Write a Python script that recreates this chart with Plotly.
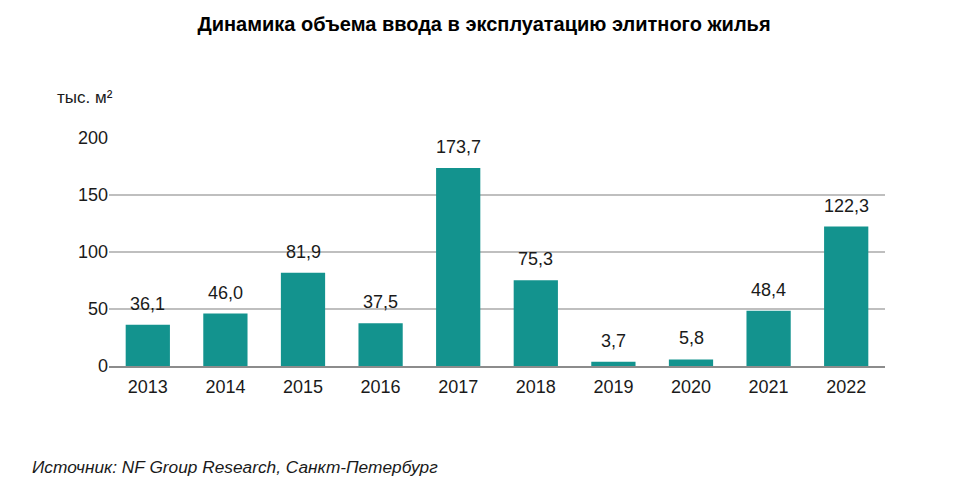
import plotly.graph_objects as go

years = ["2013", "2014", "2015", "2016", "2017", "2018", "2019", "2020", "2021", "2022"]
values = [36.1, 46.0, 81.9, 37.5, 173.7, 75.3, 3.7, 5.8, 48.4, 122.3]
labels = [f"{v:.1f}".replace(".", ",") for v in values]
y_ticks = [0, 50, 100, 150, 200]

# page body has an 8px default margin; compensate
OFF = 8
L, R, T, B = 109 - OFF, 84 + OFF, 138 - OFF, 120 + OFF
W, H = 969, 486

fig = go.Figure(go.Bar(
    x=years, y=values,
    marker=dict(color="#13938E", line=dict(width=0)),
))

pw = W - L - R
ph = H - T - B
def px_to_paper(xp, yp):
    return (xp - OFF - L) / pw, (H - B - (yp - OFF)) / ph

ax, ay = px_to_paper(55, 97)
sx, sy = px_to_paper(30, 467)

# category index positions for value labels
annotations = [
    dict(text=lab, x=i, y=v, xref="x", yref="y", showarrow=False,
         yanchor="bottom", yshift=9,
         font=dict(family="Liberation Sans, Arial", size=18, color="#1a1a1a"))
    for i, (v, lab) in enumerate(zip(values, labels))
]
annotations += [
    dict(text="тыс. м²", x=ax, y=ay, xref="paper", yref="paper", showarrow=False,
         font=dict(size=17), xanchor="left", yanchor="middle"),
    dict(text="<i>Источник: NF Group Research, Санкт-Петербург</i>", x=sx, y=sy,
         xref="paper", yref="paper",
         showarrow=False, font=dict(size=17.3, color="#1a1a1a"), xanchor="left", yanchor="middle"),
]

fig.update_layout(
    width=W, height=H,
    margin=dict(l=L, r=R, t=T, b=B),
    paper_bgcolor="white", plot_bgcolor="white",
    bargap=0.43,
    showlegend=False,
    font=dict(family="Liberation Sans, Arial", size=16, color="#1a1a1a"),
    title=dict(text="<b>Динамика объема ввода в эксплуатацию элитного жилья</b>",
               x=(484 - OFF) / W, xanchor="center", y=1 - (24 - OFF) / H, yanchor="middle",
               font=dict(size=20, color="black")),
    xaxis=dict(type="category", range=[-0.5, len(years) - 0.5], showgrid=False, ticks="",
               showline=True, linecolor="#8c8c8c", linewidth=1.5,
               tickfont=dict(size=18), ticklabelstandoff=4),
    yaxis=dict(range=[0, 200], tickvals=y_ticks, showgrid=True,
               gridcolor="#bfbfbf", gridwidth=1.5, zeroline=False,
               showline=False, tickfont=dict(size=18), ticklabelstandoff=0),
    annotations=annotations,
)

fig.write_html("out.html")
